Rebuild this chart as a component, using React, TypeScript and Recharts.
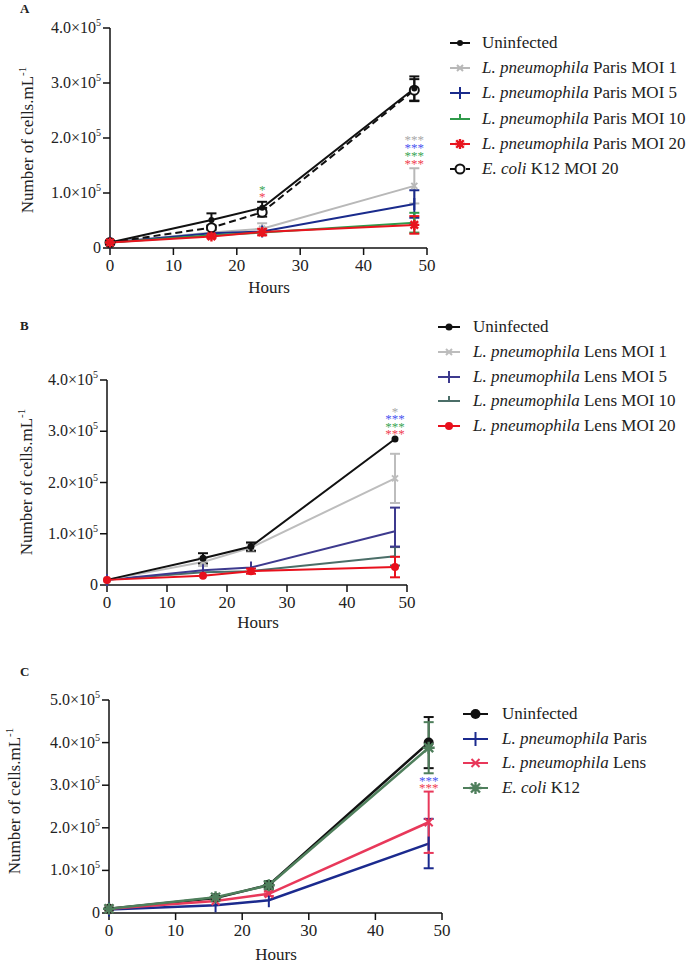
import React from "react";
import { LineChart, Line, XAxis, YAxis, ErrorBar, ReferenceDot, Label } from "recharts";

const FONT = "Liberation Serif, Tinos, DejaVu Serif, serif";

// sampling times (hours)
const HOURS = [0, 16, 24, 48];
const X_TICKS = [0, 10, 20, 30, 40, 50];

// ---------- Panel A : L. pneumophila Paris ----------
const A_UNINF = [1.0e4, 5.1e4, 7.3e4, 2.9e5];
const A_UNINF_ERR = [null, 1.2e4, 1.1e4, 2.2e4];
const A_P1 = [1.0e4, 2.8e4, 3.5e4, 1.13e5];
const A_P1_ERR = [null, null, 1.0e4, 3.2e4];
const A_P5 = [1.0e4, 2.7e4, 3.0e4, 8.0e4];
const A_P5_ERR = [null, null, null, 2.5e4];
const A_P10 = [1.0e4, 2.3e4, 2.8e4, 4.6e4];
const A_P10_ERR = [null, null, null, 1.8e4];
const A_P20 = [1.0e4, 2.1e4, 2.9e4, 4.2e4];
const A_P20_ERR = [null, 0.3e4, 0.6e4, 1.6e4];
const A_ECOLI = [1.0e4, 3.7e4, 6.5e4, 2.87e5];
const A_ECOLI_ERR = [null, 0.4e4, 0.8e4, 2.0e4];
const A_LABELS = [
  "Uninfected",
  "L. pneumophila Paris MOI 1",
  "L. pneumophila Paris MOI 5",
  "L. pneumophila Paris MOI 10",
  "L. pneumophila Paris MOI 20",
  "E. coli K12 MOI 20",
];
const A_STARS = [
  { h: 24, y: 1.09e5, text: "*", of: "p10" },
  { h: 24, y: 0.96e5, text: "*", of: "p20" },
  { h: 48, y: 2.0e5, text: "***", of: "p1" },
  { h: 48, y: 1.85e5, text: "***", of: "p5" },
  { h: 48, y: 1.71e5, text: "***", of: "p10" },
  { h: 48, y: 1.57e5, text: "***", of: "p20" },
];

// ---------- Panel B : L. pneumophila Lens ----------
const B_UNINF = [1.0e4, 5.2e4, 7.5e4, 2.85e5];
const B_UNINF_ERR = [null, 1.0e4, 0.8e4, null];
const B_L1 = [1.0e4, 4.5e4, 7.3e4, 2.08e5];
const B_L1_ERR = [null, 0.8e4, 0.8e4, 4.8e4];
const B_L5 = [1.0e4, 2.9e4, 3.4e4, 1.05e5];
const B_L5_ERR = [null, null, null, [3.0e4, 4.6e4]];
const B_L10 = [1.0e4, 2.5e4, 2.7e4, 5.6e4];
const B_L10_ERR = [null, null, null, 1.8e4];
const B_L20 = [1.0e4, 1.8e4, 2.7e4, 3.5e4];
const B_L20_ERR = [null, null, 0.5e4, 2.0e4];
const B_LABELS = [
  "Uninfected",
  "L. pneumophila Lens MOI 1",
  "L. pneumophila Lens MOI 5",
  "L. pneumophila Lens MOI 10",
  "L. pneumophila Lens MOI 20",
];
const B_STARS = [
  { h: 48, y: 3.42e5, text: "*", of: "l1" },
  { h: 48, y: 3.27e5, text: "***", of: "l5" },
  { h: 48, y: 3.13e5, text: "***", of: "l10" },
  { h: 48, y: 2.99e5, text: "***", of: "l20" },
];

// ---------- Panel C : MOI 20 comparison ----------
const C_UNINF = [1.0e4, 3.5e4, 6.6e4, 4.0e5];
const C_UNINF_ERR = [null, null, 0.8e4, 0.6e5];
const C_PARIS = [0.8e4, 1.8e4, 3.0e4, 1.63e5];
const C_PARIS_ERR = [null, null, null, 0.58e5];
const C_LENS = [1.0e4, 2.8e4, 4.5e4, 2.13e5];
const C_LENS_ERR = [null, null, 0.5e4, 0.72e5];
const C_ECOLI = [1.0e4, 3.7e4, 6.5e4, 3.88e5];
const C_ECOLI_ERR = [null, 0.3e4, 1.0e4, 0.6e5];
const C_LABELS = ["Uninfected", "L. pneumophila Paris", "L. pneumophila Lens", "E. coli K12"];
const C_STARS = [
  { h: 48, y: 3.15e5, text: "***", of: "paris" },
  { h: 48, y: 2.98e5, text: "***", of: "lens" },
];

type Kind = "dot" | "ring" | "cross" | "plus" | "tee" | "aster";
type Series = {
  key: string;
  label: string;
  values: number[];
  err: any[];
  color: string;
  star?: string;
  kind: Kind;
  size: number;
  dash?: string;
};

function Marker({ kind, cx, cy, color, size }: { kind: Kind; cx: number; cy: number; color: string; size: number }) {
  const s = size;
  if (kind === "dot") return <circle cx={cx} cy={cy} r={s} fill={color} />;
  if (kind === "ring") return <circle cx={cx} cy={cy} r={s} fill="#fff" stroke={color} strokeWidth={2} />;
  if (kind === "cross")
    return <path d={`M${cx - s},${cy - s}L${cx + s},${cy + s}M${cx - s},${cy + s}L${cx + s},${cy - s}`} stroke={color} strokeWidth={2} />;
  if (kind === "plus") return <path d={`M${cx},${cy - s}L${cx},${cy + s}`} stroke={color} strokeWidth={2} />;
  if (kind === "tee") return <path d={`M${cx},${cy - s}L${cx},${cy}`} stroke={color} strokeWidth={2} />;
  const d = s * 0.75;
  return (
    <path
      d={`M${cx - s},${cy}L${cx + s},${cy}M${cx},${cy - s}L${cx},${cy + s}M${cx - d},${cy - d}L${cx + d},${cy + d}M${cx - d},${cy + d}L${cx + d},${cy - d}`}
      stroke={color}
      strokeWidth={2.4}
    />
  );
}

function renderName(label: string) {
  const m = label.match(/^(L\. pneumophila|E\. coli)(.*)$/);
  if (!m) return label;
  return (
    <>
      <i>{m[1]}</i>
      {m[2]}
    </>
  );
}

function YTick(props: any) {
  const { x, y, payload } = props;
  const v = payload.value;
  const common = { x, y, dy: 5, textAnchor: "end" as const, fontSize: 16, fill: "#222", fontFamily: FONT };
  if (v === 0) return <text {...common}>0</text>;
  return (
    <text {...common}>
      {(v / 1e5).toFixed(1)}×10
      <tspan dy={-7} fontSize={10}>
        5
      </tspan>
    </text>
  );
}

type Frame = {
  top: number;
  height: number;
  left: number;
  right: number;
  plotTop: number;
  plotBottom: number;
  yMax: number;
  yTicks: number[];
  yTitleX: number;
  yTitleY: number;
  hoursX: number;
  hoursY: number;
  lineW: number;
  legend: { left: number; top: number; gap: number; mark: number; textGap: number };
  letter: string;
  letterTop: number;
};

function Panel({ frame, series, draw, stars }: { frame: Frame; series: Series[]; draw: string[]; stars: any[] }) {
  const data = HOURS.map((h, i) => {
    const row: any = { h };
    series.forEach((s) => {
      row[s.key] = s.values[i];
      row[s.key + "Err"] = s.err[i] ?? undefined;
    });
    return row;
  });
  const yAxisW = frame.left - 4;
  const byKey: Record<string, Series> = {};
  series.forEach((s) => (byKey[s.key] = s));

  return (
    <div style={{ position: "absolute", left: 0, top: frame.top, width: 700, height: frame.height }}>
      <div style={{ position: "absolute", left: 20, top: frame.letterTop - frame.top, fontWeight: 700, fontSize: 13 }}>
        {frame.letter}
      </div>
      <LineChart
        width={700}
        height={frame.height}
        data={data}
        margin={{ top: frame.plotTop - frame.top, right: 700 - frame.right, left: 4, bottom: frame.height - (frame.plotBottom - frame.top) - 48 }}
      >
        <XAxis
          dataKey="h"
          type="number"
          domain={[0, 50]}
          ticks={X_TICKS}
          height={48}
          tickSize={7}
          tickMargin={4}
          axisLine={{ stroke: "#111", strokeWidth: 1.5 }}
          tickLine={{ stroke: "#111", strokeWidth: 1.5 }}
          tick={{ fontSize: 17, fill: "#222", fontFamily: FONT }}
        >
          <Label
            content={() => (
              <text x={frame.hoursX} y={frame.hoursY - frame.top} textAnchor="middle" fontSize={17} fill="#222" fontFamily={FONT}>
                Hours
              </text>
            )}
          />
        </XAxis>
        <YAxis
          type="number"
          domain={[0, frame.yMax]}
          ticks={frame.yTicks}
          width={yAxisW}
          tickSize={7}
          tickMargin={2}
          axisLine={{ stroke: "#111", strokeWidth: 1.5 }}
          tickLine={{ stroke: "#111", strokeWidth: 1.5 }}
          tick={<YTick />}
        >
          <Label
            content={() => {
              const x = frame.yTitleX;
              const y = frame.yTitleY - frame.top;
              return (
                <text
                  x={x}
                  y={y}
                  transform={`rotate(-90, ${x}, ${y})`}
                  textAnchor="middle"
                  fontSize={17}
                  fill="#222"
                  fontFamily={FONT}
                >
                  Number of cells.mL
                  <tspan dy={-7} fontSize={11}>
                    -1
                  </tspan>
                </text>
              );
            }}
          />
        </YAxis>
        {draw.map((k) => {
          const s = byKey[k];
          return (
            <Line
              key={s.key}
              dataKey={s.key}
              type="linear"
              stroke={s.color}
              strokeWidth={frame.lineW}
              strokeDasharray={s.dash}
              isAnimationActive={false}
              activeDot={false}
              dot={(p: any) => (
                <Marker key={`${s.key}-${p.index}`} kind={s.kind} cx={p.cx} cy={p.cy} color={s.color} size={s.size} />
              )}
            >
              <ErrorBar dataKey={s.key + "Err"} direction="y" width={5} stroke={s.color} strokeWidth={2} />
            </Line>
          );
        })}
        {stars.map((st, i) => (
          <ReferenceDot
            key={i}
            x={st.h}
            y={st.y}
            r={0}
            ifOverflow="visible"
            shape={(p: any) => (
              <text x={p.cx} y={p.cy} dy={6} textAnchor="middle" fontSize={13} fill={byKey[st.of].star} fontFamily={FONT}>
                {st.text}
              </text>
            )}
          />
        ))}
      </LineChart>
      {series.map((s, i) => (
        <div
          key={s.key}
          style={{
            position: "absolute",
            left: frame.legend.left,
            top: frame.legend.top - frame.top + i * frame.legend.gap - 11,
            height: 22,
            display: "flex",
            alignItems: "center",
            whiteSpace: "nowrap",
          }}
        >
          <svg width={frame.legend.mark} height={16}>
            <line x1={0} y1={8} x2={frame.legend.mark} y2={8} stroke={s.color} strokeWidth={2} strokeDasharray={s.dash ? "5 3" : undefined} />
            <Marker kind={s.kind} cx={frame.legend.mark / 2} cy={8} color={s.color} size={s.size} />
          </svg>
          <span style={{ marginLeft: frame.legend.textGap, fontSize: 17, lineHeight: "22px", color: "#222" }}>{renderName(s.label)}</span>
        </div>
      ))}
    </div>
  );
}

const A_SERIES: Series[] = [
  { key: "uninf", label: A_LABELS[0], values: A_UNINF, err: A_UNINF_ERR, color: "#111", kind: "dot", size: 3 },
  { key: "p1", label: A_LABELS[1], values: A_P1, err: A_P1_ERR, color: "#b8b8b8", star: "#a8a8a8", kind: "cross", size: 3 },
  { key: "p5", label: A_LABELS[2], values: A_P5, err: A_P5_ERR, color: "#1a2b8c", star: "#4a55f0", kind: "plus", size: 6 },
  { key: "p10", label: A_LABELS[3], values: A_P10, err: A_P10_ERR, color: "#2f9a4a", star: "#3aa655", kind: "tee", size: 5 },
  { key: "p20", label: A_LABELS[4], values: A_P20, err: A_P20_ERR, color: "#e8141e", star: "#f04050", kind: "aster", size: 5 },
  { key: "ecoli", label: A_LABELS[5], values: A_ECOLI, err: A_ECOLI_ERR, color: "#111", kind: "ring", size: 4.5, dash: "7 4" },
];

const B_SERIES: Series[] = [
  { key: "uninf", label: B_LABELS[0], values: B_UNINF, err: B_UNINF_ERR, color: "#111", kind: "dot", size: 3.5 },
  { key: "l1", label: B_LABELS[1], values: B_L1, err: B_L1_ERR, color: "#bdbdbd", star: "#a8a8a8", kind: "cross", size: 3 },
  { key: "l5", label: B_LABELS[2], values: B_L5, err: B_L5_ERR, color: "#3d3a8e", star: "#4a55f0", kind: "plus", size: 6 },
  { key: "l10", label: B_LABELS[3], values: B_L10, err: B_L10_ERR, color: "#4b6e68", star: "#3aa655", kind: "tee", size: 5 },
  { key: "l20", label: B_LABELS[4], values: B_L20, err: B_L20_ERR, color: "#e8101c", star: "#f04050", kind: "dot", size: 4 },
];

const C_SERIES: Series[] = [
  { key: "uninf", label: C_LABELS[0], values: C_UNINF, err: C_UNINF_ERR, color: "#111", kind: "dot", size: 5 },
  { key: "paris", label: C_LABELS[1], values: C_PARIS, err: C_PARIS_ERR, color: "#1b2a8e", star: "#4a55f0", kind: "plus", size: 7 },
  { key: "lens", label: C_LABELS[2], values: C_LENS, err: C_LENS_ERR, color: "#e8385a", star: "#f04050", kind: "cross", size: 4 },
  { key: "ecoli", label: C_LABELS[3], values: C_ECOLI, err: C_ECOLI_ERR, color: "#4f7f5c", kind: "aster", size: 6 },
];

const FRAME_A: Frame = {
  top: 0, height: 300, left: 110, right: 427, plotTop: 28, plotBottom: 248,
  yMax: 4e5, yTicks: [0, 1e5, 2e5, 3e5, 4e5],
  yTitleX: 33, yTitleY: 140, hoursX: 269, hoursY: 293, lineW: 2,
  legend: { left: 450, top: 43, gap: 25.2, mark: 20, textGap: 12 },
  letter: "A", letterTop: 1,
};
const FRAME_B: Frame = {
  top: 300, height: 340, left: 107, right: 407, plotTop: 380, plotBottom: 585,
  yMax: 4e5, yTicks: [0, 1e5, 2e5, 3e5, 4e5],
  yTitleX: 32, yTitleY: 482, hoursX: 258, hoursY: 628, lineW: 2,
  legend: { left: 438, top: 327, gap: 24.8, mark: 22, textGap: 13 },
  letter: "B", letterTop: 318,
};
const FRAME_C: Frame = {
  top: 640, height: 323, left: 109, right: 442, plotTop: 700, plotBottom: 913,
  yMax: 5e5, yTicks: [0, 1e5, 2e5, 3e5, 4e5, 5e5],
  yTitleX: 20, yTitleY: 801, hoursX: 276, hoursY: 960, lineW: 2.5,
  legend: { left: 463, top: 714, gap: 24.7, mark: 25, textGap: 14 },
  letter: "C", letterTop: 664,
};

export default function App() {
  return (
    <div
      style={{
        position: "absolute",
        left: 0,
        top: 0,
        width: 700,
        height: 963,
        overflow: "hidden",
        background: "#fff",
        fontFamily: FONT,
        color: "#222",
      }}
    >
      <Panel frame={FRAME_A} series={A_SERIES} draw={["p1", "p5", "p10", "ecoli", "uninf", "p20"]} stars={A_STARS} />
      <Panel frame={FRAME_B} series={B_SERIES} draw={["l10", "l5", "l1", "uninf", "l20"]} stars={B_STARS} />
      <Panel frame={FRAME_C} series={C_SERIES} draw={["uninf", "paris", "lens", "ecoli"]} stars={C_STARS} />
    </div>
  );
}
